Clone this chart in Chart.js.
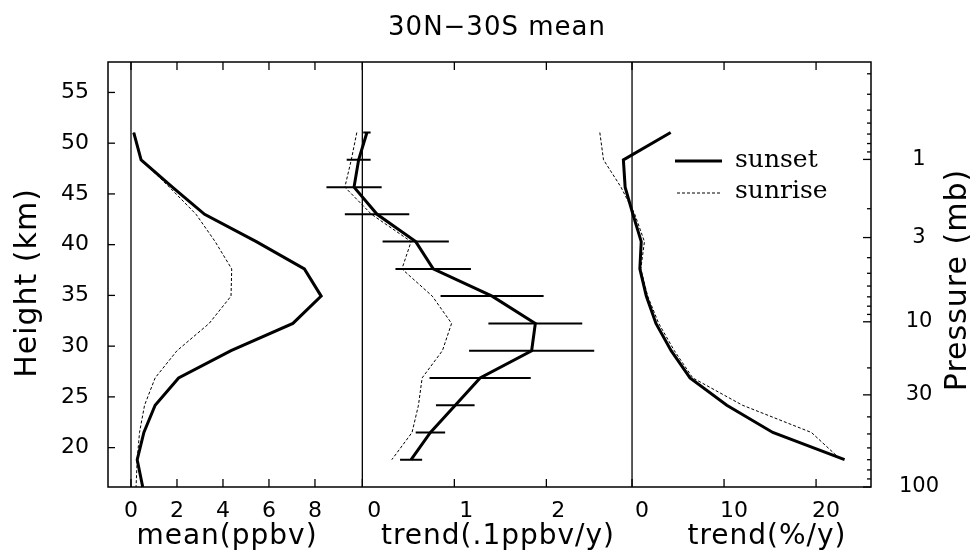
<!DOCTYPE html>
<html>
<head>
<meta charset="utf-8">
<script src="https://cdn.jsdelivr.net/npm/chart.js@4.4.1/dist/chart.umd.min.js"></script>
<style>
  html, body { margin: 0; padding: 0; background: #fff; }
</style>
</head>
<body>
<canvas id="profile" width="975" height="560"></canvas>
<script>
// heights (km) of the retrieval levels, top to bottom
const heights = [51.05, 48.36, 45.67, 42.99, 40.30, 37.61, 34.93, 32.24, 29.55, 26.87, 24.18, 21.49, 18.81, 16.12];

// panel 1: mean (ppbv)
const meanSunset = [0.12, 0.44, 1.8, 3.2, 5.45, 7.54, 8.27, 7.04, 4.35, 2.07, 1.05, 0.56, 0.27, 0.51];
const meanSunrise = [0.12, 0.44, 1.67, 2.83, 3.66, 4.38, 4.35, 3.4, 2.0, 1.05, 0.59, 0.37, 0.27, 0.22];

// panel 2: trend (.1 ppbv/y), sunset error half-widths
const trendSunset = [0.05, -0.04, -0.09, 0.16, 0.58, 0.77, 1.41, 1.88, 1.84, 1.28, 1.01, 0.74, 0.53];
const trendErr = [0.04, 0.13, 0.30, 0.35, 0.36, 0.41, 0.56, 0.51, 0.68, 0.55, 0.21, 0.16, 0.12];
const trendSunrise = [-0.06, -0.12, -0.19, 0.10, 0.53, 0.43, 0.76, 0.97, 0.87, 0.65, 0.61, 0.54, 0.32];

// panel 3: trend (%/y)
const pctSunset = [4.2, -0.94, -0.75, 0.1, 1.0, 0.85, 1.55, 2.6, 4.25, 6.3, 10.3, 15.3, 23.1];
const pctSunrise = [-3.5, -3.1, -1.2, 0.3, 1.35, 0.95, 1.7, 2.9, 4.6, 6.6, 12.0, 19.5, 22.7];

// axis ticks
const heightTicks = [20, 25, 30, 35, 40, 45, 50, 55];
const pressureTicks = [1, 3, 10, 30, 100];
const pressureTickHeights = [48.4, 40.7, 32.4, 25.2, 16.12];
const pressureMinor = [0.3, 0.4, 0.5, 0.6, 0.7, 0.8, 0.9, 2, 4, 5, 6, 7, 8, 9, 20, 40, 50, 60, 70, 80, 90];
const meanTicks = [0, 2, 4, 6, 8];
const trendTicks = [0, 1, 2];
const pctTicks = [0, 10, 20];

const profile = (vals) => vals.map((v, i) => ({x: v, y: heights[i]}));
const errorBars = trendSunset.flatMap((v, i) => [
  {x: v - trendErr[i], y: heights[i]},
  {x: v + trendErr[i], y: heights[i]},
  {x: null, y: null}
]);

// pressure -> height, piecewise in ln(p) between the labelled ticks
function pressureHeight(p) {
  const lp = Math.log(p);
  let i = 0;
  while (i < pressureTicks.length - 2 && p > pressureTicks[i + 1]) i++;
  const l0 = Math.log(pressureTicks[i]), l1 = Math.log(pressureTicks[i + 1]);
  const h0 = pressureTickHeights[i], h1 = pressureTickHeights[i + 1];
  return h0 + (lp - l0) * (h1 - h0) / (l1 - l0);
}

const font = (size) => ({family: "DejaVu Sans", size: size});

// panels overlap a little, so no clipping to each x scale
const solid = {borderColor: "#000", borderWidth: 3, pointRadius: 0, showLine: true, fill: false, clip: false};
const dashed = {borderColor: "#000", borderWidth: 1, borderDash: [3, 2], pointRadius: 0, showLine: true, fill: false, clip: false};

function xAxis(min, max, ticks, offset) {
  return {
    type: "linear", axis: "x", position: "bottom", stack: "panels", stackWeight: 1,
    min: min, max: max,
    grid: {display: false}, border: {display: false},
    afterBuildTicks: (s) => { s.ticks = ticks.map(v => ({value: v})); },
    afterFit: (s) => { s.height = 73; },
    ticks: {font: font(22), color: "#000", padding: 3, labelOffset: offset, autoSkip: false, maxRotation: 0}
  };
}

const frame = {
  id: "frame",
  beforeDatasetsDraw(chart) {
    const {ctx, chartArea: a, scales} = chart;
    ctx.save();
    ctx.strokeStyle = "#000";
    ctx.lineWidth = 1.3;
    ["xMean", "xTrend", "xPct"].forEach(id => {
      const x = scales[id].getPixelForValue(0);
      ctx.beginPath(); ctx.moveTo(x, a.top); ctx.lineTo(x, a.bottom); ctx.stroke();
    });
    ctx.restore();
  },
  afterDraw(chart) {
    const {ctx, chartArea: a, scales} = chart;
    ctx.save();
    ctx.strokeStyle = "#000";
    ctx.fillStyle = "#000";
    ctx.lineWidth = 1.5;
    ctx.strokeRect(a.left, a.top, a.right - a.left, a.bottom - a.top);

    // inward tick marks
    ctx.lineWidth = 1.3;
    const tick = (x1, y1, x2, y2) => { ctx.beginPath(); ctx.moveTo(x1, y1); ctx.lineTo(x2, y2); ctx.stroke(); };
    heightTicks.forEach(v => { const y = scales.y.getPixelForValue(v); tick(a.left, y, a.left + 7, y); });
    pressureTickHeights.forEach(v => { const y = scales.yP.getPixelForValue(v); tick(a.right, y, a.right - 8, y); });
    pressureMinor.forEach(p => {
      const y = scales.yP.getPixelForValue(pressureHeight(p));
      if (y > a.top && y < a.bottom) tick(a.right, y, a.right - 4, y);
    });
    [["xMean", meanTicks], ["xTrend", trendTicks], ["xPct", pctTicks]].forEach(([id, ts]) => {
      ts.forEach(v => {
        const x = scales[id].getPixelForValue(v);
        tick(x, a.bottom, x, a.bottom - 8);
        tick(x, a.top, x, a.top + 8);
      });
    });

    // titles
    ctx.textAlign = "center";
    ctx.textBaseline = "middle";
    ctx.letterSpacing = "1px";
    ctx.font = '26px "DejaVu Sans"';
    ctx.fillText("30N\u221230S mean", 497, 28);

    ctx.font = '28px "DejaVu Sans"';
    ctx.textBaseline = "alphabetic";
    ctx.fillText("mean(ppbv)", 227, 544);
    ctx.fillText("trend(.1ppbv/y)", 498, 544);
    ctx.fillText("trend(%/y)", 767, 544);

    ctx.font = '30px "DejaVu Sans"';
    ctx.textBaseline = "middle";
    ctx.save(); ctx.translate(28, 283); ctx.rotate(-Math.PI / 2); ctx.fillText("Height (km)", 0, 0); ctx.restore();
    ctx.save(); ctx.translate(958, 280); ctx.rotate(-Math.PI / 2); ctx.fillText("Pressure (mb)", 0, 0); ctx.restore();

    // legend
    ctx.letterSpacing = "0px";
    ctx.lineWidth = 3;
    tick(675, 161, 722, 161);
    ctx.lineWidth = 1;
    ctx.setLineDash([3, 2]);
    tick(677, 193, 722, 193);
    ctx.setLineDash([]);
    ctx.textAlign = "left";
    ctx.font = '25px "DejaVu Serif"';
    ctx.fillText("sunset", 735, 160);
    ctx.fillText("sunrise", 735, 191);
    ctx.restore();
  }
};

new Chart(document.getElementById("profile"), {
  type: "scatter",
  data: {
    datasets: [
      {label: "sunset", data: profile(meanSunset), xAxisID: "xMean", yAxisID: "y", ...solid},
      {label: "sunrise", data: profile(meanSunrise), xAxisID: "xMean", yAxisID: "y", ...dashed},
      {label: "sunset", data: profile(trendSunset), xAxisID: "xTrend", yAxisID: "y", ...solid},
      {label: "sunrise", data: profile(trendSunrise), xAxisID: "xTrend", yAxisID: "y", ...dashed},
      {label: "error", data: errorBars, xAxisID: "xTrend", yAxisID: "y", ...solid, borderWidth: 2, spanGaps: false},
      {label: "sunset", data: profile(pctSunset), xAxisID: "xPct", yAxisID: "y", ...solid},
      {label: "sunrise", data: profile(pctSunrise), xAxisID: "xPct", yAxisID: "y", ...dashed}
    ]
  },
  options: {
    responsive: false,
    animation: false,
    devicePixelRatio: 1,
    layout: {padding: {top: 62, left: 0, right: 0, bottom: 0}},
    plugins: {legend: {display: false}, tooltip: {enabled: false}, title: {display: false}},
    scales: {
      xMean: xAxis(-1, 10.06, meanTicks, 0),
      xTrend: xAxis(0, 2.764, trendTicks, 12),
      xPct: xAxis(-1.67, 25.97, pctTicks, 10),
      y: {
        type: "linear", axis: "y", position: "left", min: 16.12, max: 58,
        grid: {display: false}, border: {display: false},
        afterBuildTicks: (s) => { s.ticks = heightTicks.map(v => ({value: v})); },
        afterFit: (s) => { s.width = 108; },
        ticks: {font: font(22), color: "#000", padding: 11}
      },
      yP: {
        type: "linear", axis: "y", position: "right", min: 16.12, max: 58,
        grid: {display: false}, border: {display: false},
        afterBuildTicks: (s) => { s.ticks = pressureTickHeights.map(v => ({value: v})); },
        afterFit: (s) => { s.width = 104; },
        ticks: {
          font: font(21), color: "#000", padding: 20, crossAlign: "center",
          callback: (v, i) => String(pressureTicks[i])
        }
      }
    }
  },
  plugins: [frame]
});
</script>
</body>
</html>
